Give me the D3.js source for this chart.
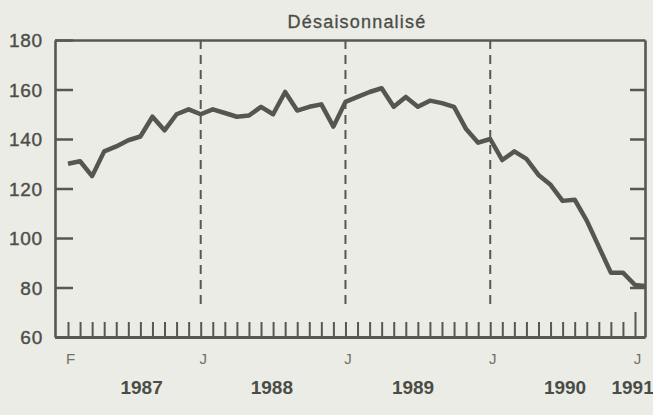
<!DOCTYPE html>
<html>
<head>
<meta charset="utf-8">
<script src="https://cdn.jsdelivr.net/npm/d3@7"></script>
<style>
  body { margin: 0; background: #ebece6; overflow: hidden; }
  svg { display: block; font-family: "Liberation Sans", Arial, sans-serif; }
</style>
</head>
<body>
<div id="chart"></div>
<script>
// Monthly series, Feb 1987 .. Feb 1991 (last point runs into the frame)
const values = [
  130, 131, 125, 135, 137, 139.5, 141, 149, 143.5, 150, 152,          // F87 - D87
  150, 152, 150.5, 149, 149.5, 153, 150, 159, 151.5, 153, 154, 145,   // 1988
  155, 157, 159, 160.5, 153, 157, 153, 155.5, 154.5, 153, 144, 138.5, // 1989
  140, 131.5, 135, 132, 125.5, 121.5, 115, 115.5, 107, 96.5, 86, 86,  // 1990
  81, 80.5                                                            // J91, F91
];
const monthLabels = { 0: "F", 11: "J", 23: "J", 35: "J", 47: "J" };
const yearLabels = ["1987", "1988", "1989", "1990", "1991"];
const yearPos = [6.1, 16.9, 28.6, 41.2, 46.8];   // in month-index units
const yearStarts = [11, 23, 35];                 // dashed separators
const yTicks = [60, 80, 100, 120, 140, 160, 180];
const title = "Désaisonnalisé";

const W = 653, H = 415;
const frame = { left: 55, right: 645, top: 40, bottom: 337 };
const ink = "#575951";
const font = "'Liberation Sans', Arial, sans-serif";

const svg = d3.select("#chart").append("svg")
  .attr("width", W).attr("height", H);

svg.append("rect").attr("width", W).attr("height", H).attr("fill", "#ebece6");

const x = d3.scaleLinear().domain([0, 47]).range([68, 635]);
const y = d3.scaleLinear().domain([60, 180]).range([frame.bottom, frame.top]);

// title
svg.append("text")
  .attr("x", 357).attr("y", 27.5)
  .attr("text-anchor", "middle")
  .style("font-size", "18px")
  .style("letter-spacing", "1.2px")
  .attr("fill", "#4a4c46")
  .attr("stroke", "#4a4c46").attr("stroke-width", 0.3)
  .text(title);

// series line, clipped to the frame
svg.append("clipPath").attr("id", "plot-clip")
  .append("rect")
  .attr("x", frame.left).attr("y", frame.top)
  .attr("width", frame.right - frame.left)
  .attr("height", frame.bottom - frame.top);

const line = d3.line()
  .x((d, i) => x(i))
  .y(d => y(d));

svg.append("path")
  .datum(values)
  .attr("clip-path", "url(#plot-clip)")
  .attr("fill", "none")
  .attr("stroke", "#55574f")
  .attr("stroke-width", 4.5)
  .attr("stroke-linejoin", "round")
  .attr("d", line);

// dashed year separators
svg.append("g").selectAll("line")
  .data(yearStarts)
  .join("line")
  .attr("x1", d => x(d)).attr("x2", d => x(d))
  .attr("y1", frame.top).attr("y2", y(72))
  .attr("stroke", ink)
  .attr("stroke-width", 2)
  .attr("stroke-dasharray", "9,6");

// left axis: ticks inward, labels outside
const yAxis = svg.append("g")
  .attr("transform", `translate(${frame.left},0)`)
  .call(d3.axisLeft(y).tickValues(yTicks).tickSizeInner(-18).tickSizeOuter(0).tickPadding(12))
  .attr("font-family", font);

yAxis.select(".domain").attr("stroke", ink).attr("stroke-width", 2.6);
yAxis.selectAll("line").attr("stroke", ink).attr("stroke-width", 2.5);
yAxis.selectAll("text")
  .attr("fill", "#4c4e48")
  .attr("stroke", "#4c4e48").attr("stroke-width", 0.4)
  .style("font-size", "19px")
  .style("letter-spacing", "0.8px")
  .attr("dy", "0.36em");

// right axis: ticks only
const yAxisR = svg.append("g")
  .attr("transform", `translate(${frame.right},0)`)
  .call(d3.axisRight(y).tickValues(yTicks.slice(1, -1)).tickSizeInner(-15).tickSizeOuter(0).tickFormat(""));
yAxisR.select(".domain").attr("stroke", ink).attr("stroke-width", 2.6);
yAxisR.selectAll("line").attr("stroke", ink).attr("stroke-width", 2.5);

// top edge
svg.append("g")
  .attr("transform", `translate(0,${frame.top})`)
  .call(d3.axisTop(d3.scaleLinear().range([frame.left, frame.right])).tickValues([]).tickSizeOuter(0))
  .select(".domain").attr("stroke", ink).attr("stroke-width", 2.6);

// bottom axis: monthly ticks pointing up, domain path is the bottom edge
const xBase = d3.scaleLinear().domain([-13 / 12.064, 47 + 10 / 12.064]).range([frame.left, frame.right]);
const xAxis = svg.append("g")
  .attr("transform", `translate(0,${frame.bottom})`)
  .call(d3.axisBottom(xBase)
    .tickValues(d3.range(48))
    .tickSizeInner(-15).tickSizeOuter(0).tickPadding(16)
    .tickFormat(i => monthLabels[i] || ""))
  .attr("font-family", font);
xAxis.select(".domain").attr("stroke", ink).attr("stroke-width", 3);
xAxis.selectAll(".tick line").attr("stroke", ink).attr("stroke-width", 2);
xAxis.selectAll(".tick").filter(i => i === 47).select("line").attr("y2", -25);
xAxis.selectAll("text")
  .attr("fill", "#6f716b")
  .style("font-size", "15px")
  .attr("dx", "2px");

// year labels
svg.append("g").selectAll("text")
  .data(yearLabels)
  .join("text")
  .attr("x", (d, i) => x(yearPos[i]))
  .attr("y", 394)
  .attr("text-anchor", "middle")
  .attr("fill", "#4a4c46")
  .style("font-size", "19px")
  .style("font-weight", "bold")
  .text(d => d);
</script>
</body>
</html>
